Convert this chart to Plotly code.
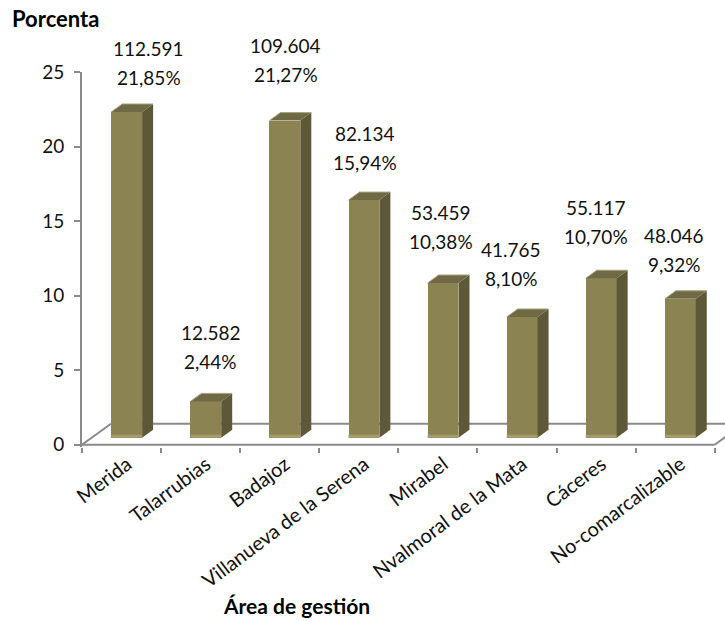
import plotly.graph_objects as go

# ---- data -------------------------------------------------------------
areas = ["Merida", "Talarrubias", "Badajoz", "Villanueva de la Serena",
         "Mirabel", "Nvalmoral de la Mata", "Cáceres", "No-comarcalizable"]
porcentaje = [21.85, 2.44, 21.27, 15.94, 10.38, 8.10, 10.70, 9.32]
explotaciones = [112591, 12582, 109604, 82134, 53459, 41765, 55117, 48046]
y_ticks = [0, 5, 10, 15, 20, 25]

# ---- page / plot geometry --------------------------------------------
W, H = 725, 621
L, R, T, B = 82, 0, 72, 174
X_RANGE = [-0.5, 7.63]
Y_RANGE = [-0.15, 25]
px_cat = (W - L - R) / (X_RANGE[1] - X_RANGE[0])
px_unit = (H - T - B) / (Y_RANGE[1] - Y_RANGE[0])

FONT = "Lato, 'Open Sans', sans-serif"
AXIS_GREY = "#8a8a8a"
FRONT = "#8c8353"
SIDE = "#5d5837"
TOP = "#6f6a45"
EDGE = "#a8a27c"
BOTTOM = "#a39c6c"

# oblique projection of the floor and of each bar's depth
floor_dx, floor_dy = 29 / px_cat, 21 / px_unit
bar_dx, bar_dy = 11 / px_cat, 8 / px_unit
bar_base = 7 / px_unit
bar_w = 0.39
bar_shift = 0.065
label_shift = 0.07

# label nudges in pixels (gap above the bar top, horizontal offset)
label_gap = [34, 40, 46, 38, 41.5, 38.5, 42, 34]
label_dx = [22, 5, 1, 1, -2, -11, -5, -6]
line_step = 29


def paper_x(px):
    return (px - L) / (W - L - R)


def paper_y(py):
    return (H - B - py) / (H - T - B)


def fmt_count(n):
    return f"{n:,}".replace(",", ".")


def fmt_pct(p):
    return f"{p:.2f}".replace(".", ",") + "%"


idx = list(range(len(areas)))
xc = [i + bar_shift for i in idx]

fig = go.Figure()

# front faces of the bars
fig.add_trace(go.Bar(
    x=xc, y=porcentaje, base=[bar_base] * len(idx), width=bar_w,
    marker=dict(color=FRONT, line=dict(width=0)),
    hoverinfo="skip", showlegend=False,
))
# carrier for the category boundary tick marks
fig.add_trace(go.Scatter(x=[None], y=[None], xaxis="x2", showlegend=False,
                         hoverinfo="skip"))

shapes = []

# floor outline (behind the bars)
fx0, fx1 = X_RANGE[0], len(areas) - 0.5
floor_lines = [
    (fx0, 0, fx1, 0),
    (fx1, 0, fx1 + floor_dx, floor_dy),
    (fx0, 0, fx0 + floor_dx, floor_dy),
    (fx0 + floor_dx, floor_dy, fx1 + floor_dx, floor_dy),
]
for x0, y0, x1, y1 in floor_lines:
    shapes.append(dict(type="line", xref="x", yref="y", x0=x0, y0=y0,
                       x1=x1, y1=y1, layer="below",
                       line=dict(color=AXIS_GREY, width=2)))

# side and top faces of each bar
for c, v in zip(xc, porcentaje):
    xl, xr = c - bar_w / 2, c + bar_w / 2
    y0, y1 = bar_base, bar_base + v
    side = (f"M {xr},{y0} L {xr + bar_dx},{y0 + bar_dy} "
            f"L {xr + bar_dx},{y1 + bar_dy} L {xr},{y1} Z")
    top = (f"M {xl},{y1} L {xl + bar_dx},{y1 + bar_dy} "
           f"L {xr + bar_dx},{y1 + bar_dy} L {xr},{y1} Z")
    shapes.append(dict(type="path", xref="x", yref="y", path=side,
                       fillcolor=SIDE, line=dict(width=0), layer="above"))
    shapes.append(dict(type="path", xref="x", yref="y", path=top,
                       fillcolor=TOP, line=dict(width=0), layer="above"))
    # light rim along the back of the top face
    shapes.append(dict(type="path", xref="x", yref="y",
                       path=(f"M {xl},{y1} L {xl + bar_dx},{y1 + bar_dy} "
                             f"L {xr + bar_dx},{y1 + bar_dy}"),
                       line=dict(color=EDGE, width=1), layer="above"))
    # light strip at the foot of the front face
    shapes.append(dict(type="rect", xref="x", yref="y", x0=xl, x1=xr,
                       y0=y0, y1=y0 + 3 / px_unit, fillcolor=BOTTOM,
                       line=dict(width=0), layer="above"))

annotations = []
for i, (c, v, n) in enumerate(zip(xc, porcentaje, explotaciones)):
    for k, txt in enumerate([fmt_pct(v), fmt_count(n)]):
        annotations.append(dict(
            x=c, y=bar_base + v, xref="x", yref="y",
            text=txt, showarrow=False, xanchor="center", yanchor="middle",
            xshift=label_dx[i], yshift=label_gap[i] + k * line_step,
            font=dict(family=FONT, size=19, color="#111111"),
        ))

annotations.append(dict(
    text="<b>Porcenta</b>", xref="paper", yref="paper",
    x=paper_x(10), y=paper_y(18), xanchor="left", yanchor="middle",
    showarrow=False, font=dict(family=FONT, size=22, color="#000000"),
))
annotations.append(dict(
    text="<b>Área de gestión</b>", xref="paper", yref="paper",
    x=paper_x(296), y=paper_y(605), xanchor="center", yanchor="middle",
    showarrow=False, font=dict(family=FONT, size=21, color="#000000"),
))

fig.update_layout(
    width=W, height=H,
    margin=dict(l=L, r=R, t=T, b=B, pad=0),
    paper_bgcolor="white", plot_bgcolor="white",
    bargap=0, showlegend=False,
    shapes=shapes, annotations=annotations,
    xaxis=dict(
        range=X_RANGE, tickmode="array",
        tickvals=[i + label_shift for i in idx], ticktext=areas,
        tickangle=-37, ticks="", showline=False, showgrid=False,
        zeroline=False, ticklabelstandoff=1,
        tickfont=dict(family=FONT, size=20, color="#111111"),
    ),
    xaxis2=dict(
        range=X_RANGE, overlaying="x", anchor="y", side="bottom",
        tickmode="array", tickvals=[i - 0.5 for i in range(len(areas) + 1)],
        ticks="outside", ticklen=5, tickwidth=2, tickcolor=AXIS_GREY,
        showticklabels=False, showgrid=False, zeroline=False, showline=False,
    ),
    yaxis=dict(
        range=Y_RANGE, tickmode="array", tickvals=y_ticks,
        ticks="outside", ticklen=6, tickwidth=2, tickcolor=AXIS_GREY,
        showline=True, linecolor=AXIS_GREY, linewidth=2,
        showgrid=False, zeroline=False, ticklabelstandoff=6,
        tickfont=dict(family=FONT, size=19, color="#111111"),
    ),
)

fig.write_html("out.html")
